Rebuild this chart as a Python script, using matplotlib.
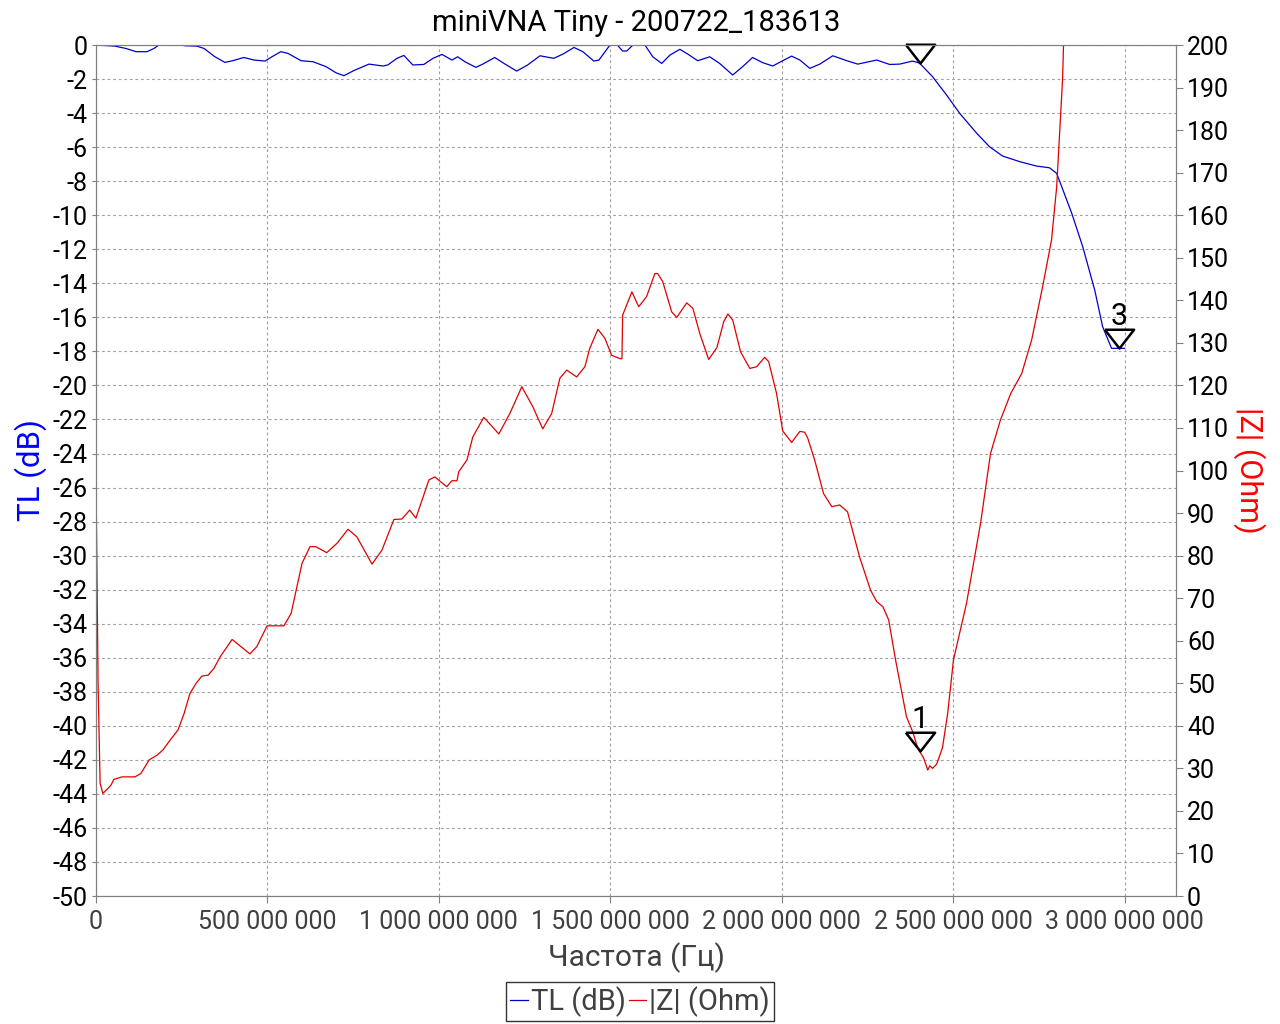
import numpy as np
import matplotlib
matplotlib.use("Agg")
import matplotlib.pyplot as plt
from matplotlib.ticker import FuncFormatter, MultipleLocator

plt.rcParams['font.family'] = ['Roboto', 'DejaVu Sans']

# TL (dB) trace, frequency in MHz
tl_freq_mhz = [0, 55, 87, 117, 149, 169, 187, 222, 259, 294, 315, 347, 376, 399, 431,
               461, 493, 513, 539, 560, 598, 633, 671, 700, 723, 752, 796, 837, 851,
               878, 898, 924, 956, 983, 1009, 1038, 1055, 1076, 1108, 1128, 1163, 1190,
               1227, 1259, 1295, 1335, 1362, 1394, 1420, 1452, 1467, 1499, 1516, 1536,
               1548, 1566, 1586, 1601, 1624, 1650, 1674, 1703, 1726, 1755, 1790, 1819,
               1857, 1886, 1915, 1945, 1974, 2003, 2029, 2053, 2082, 2111, 2149, 2190,
               2222, 2277, 2315, 2344, 2382, 2402, 2440, 2481, 2519, 2569, 2606, 2644,
               2694, 2743, 2781, 2802, 2846, 2878, 2913, 2936, 2962, 3000]
tl_db = [0.0, -0.06, -0.2, -0.39, -0.39, -0.2, 0.05, 0.1, -0.04, -0.06, -0.2, -0.69,
         -1.02, -0.92, -0.73, -0.88, -0.94, -0.69, -0.39, -0.49, -0.92, -0.98, -1.27,
         -1.63, -1.8, -1.5, -1.12, -1.23, -1.17, -0.78, -0.61, -1.17, -1.14, -0.78,
         -0.55, -0.88, -0.69, -0.98, -1.31, -1.12, -0.73, -1.08, -1.53, -1.17, -0.63,
         -0.78, -0.53, -0.14, -0.39, -0.94, -0.88, 0.0, 0.1, -0.35, -0.35, 0.0, 0.1,
         0.0, -0.69, -1.08, -0.59, -0.25, -0.53, -0.92, -0.69, -1.08, -1.76, -1.27,
         -0.73, -1.04, -1.23, -0.92, -0.65, -0.88, -1.37, -1.12, -0.63, -0.92, -1.12,
         -0.88, -1.14, -1.12, -0.94, -1.06, -1.86, -2.94, -4.01, -5.19, -5.97, -6.52,
         -6.85, -7.11, -7.21, -7.54, -9.89, -11.85, -14.4, -16.55, -17.82, -17.82]

# |Z| (Ohm) trace, frequency in MHz
z_freq_mhz = [1, 6, 12, 20, 35, 44, 52, 76, 114, 131, 155, 178, 195, 213, 239, 257, 274,
              292, 309, 327, 344, 362, 397, 423, 449, 469, 499, 548, 569, 601, 624, 641,
              673, 703, 735, 761, 805, 834, 869, 892, 915, 933, 971, 988, 1023, 1038,
              1053, 1058, 1082, 1099, 1131, 1175, 1207, 1242, 1274, 1303, 1329, 1353,
              1373, 1402, 1426, 1440, 1464, 1484, 1504, 1528, 1534, 1536, 1563, 1583,
              1606, 1630, 1638, 1653, 1679, 1694, 1723, 1741, 1761, 1787, 1811, 1831,
              1843, 1857, 1880, 1907, 1927, 1950, 1962, 1985, 2003, 2029, 2038, 2053,
              2067, 2076, 2096, 2122, 2146, 2169, 2192, 2227, 2259, 2277, 2295, 2312,
              2332, 2347, 2364, 2382, 2397, 2414, 2426, 2432, 2440, 2452, 2469, 2484,
              2501, 2539, 2580, 2609, 2638, 2668, 2700, 2729, 2761, 2787, 2802, 2811,
              2819, 2822, 2834, 2860, 3000]
z_ohm = [90.7, 50.0, 26.5, 24.1, 25.3, 26.1, 27.4, 28.0, 28.0, 28.8, 32.0, 33.1, 34.3,
         36.3, 39.0, 42.9, 47.6, 50.0, 51.7, 51.9, 53.5, 56.2, 60.3, 58.6, 56.9, 58.6,
         63.5, 63.5, 66.4, 78.2, 82.1, 82.1, 80.7, 82.9, 86.2, 84.4, 78.0, 81.3, 88.5,
         88.6, 90.7, 88.8, 97.8, 98.5, 96.2, 97.6, 97.6, 99.7, 102.5, 107.9, 112.5,
         108.6, 113.4, 119.7, 115.0, 109.8, 113.4, 121.7, 123.6, 122.0, 124.4, 128.7,
         133.2, 131.1, 127.1, 126.3, 126.3, 136.5, 142.0, 138.5, 140.9, 146.3, 146.3,
         144.4, 137.3, 136.0, 139.4, 138.1, 132.2, 126.1, 128.9, 135.0, 136.8, 135.4,
         127.9, 124.0, 124.4, 126.6, 125.6, 118.1, 109.3, 106.6, 107.6, 109.2, 109.0,
         107.6, 102.5, 94.6, 91.5, 91.9, 90.3, 79.7, 71.9, 69.2, 68.0, 64.9, 55.5,
         49.2, 42.1, 38.6, 34.7, 32.4, 29.6, 30.6, 30.0, 31.0, 34.9, 42.9, 55.5, 68.8,
         87.6, 104.0, 111.9, 118.1, 122.8, 130.7, 143.2, 154.2, 166.7, 180.0, 191.7,
         200.0, 215.0, 260.0, 500.0]

# markers: (label, trace, frequency in MHz)
marker_labels = ['1', '2', '3']
marker_trace = ['z', 'tl', 'tl']
marker_freq_mhz = [2402, 2402, 2983]

title = "miniVNA Tiny - 200722_183613"
blue = '#0000cc'
red = '#e00000'
gray_txt = '#404040'

tl_freq = np.array(tl_freq_mhz) * 1e6
z_freq = np.array(z_freq_mhz) * 1e6

fig = plt.figure(figsize=(12.8, 10.24), dpi=100)
ax = fig.add_axes([0.075, 0.125, 0.84375, 0.831])
ax2 = ax.twinx()

ax.plot(tl_freq, tl_db, color=blue, lw=0.9, label='TL (dB)')
ax2.plot(z_freq, z_ohm, color=red, lw=0.9, label='|Z| (Ohm)')

ax.set_xlim(0, 3.15e9)
ax.set_ylim(-50, 0)
ax2.set_ylim(0, 200)

ax.xaxis.set_major_locator(MultipleLocator(5e8))
ax.yaxis.set_major_locator(MultipleLocator(2))
ax2.yaxis.set_major_locator(MultipleLocator(10))
ax.xaxis.set_major_formatter(FuncFormatter(lambda v, p: f"{int(round(v)):,}".replace(',', ' ')))
ax.yaxis.set_major_formatter(FuncFormatter(lambda v, p: f"{int(v)}"))

ax.grid(True, color='#a0a0a0', linestyle=(0, (2.5, 2.5)), lw=0.8)
ax.tick_params(axis='x', labelsize=18, labelcolor=gray_txt, color='#808080', length=5, pad=5)
ax.tick_params(axis='y', labelsize=18, labelcolor='black', color='#808080', length=3, pad=3)
ax2.tick_params(axis='y', labelsize=18, labelcolor='black', color='#808080', length=5, pad=3)
for a in (ax, ax2):
    for s in a.spines.values():
        s.set_color('#808080')

ax.set_xlabel('Частота (Гц)', fontsize=21.5, color=gray_txt, labelpad=6)
ax.set_ylabel('TL (dB)', fontsize=22.5, color='#0000ff', labelpad=4)
ax2.set_ylabel('|Z| (Ohm)', fontsize=22, color='#ff0000', rotation=270, labelpad=26)
ax.set_title(title, fontsize=21, color='black', pad=10)

# markers: open triangle with apex on the trace
tri = [(-0.78, 1.0), (0.78, 1.0), (0.0, 0.0), (-0.78, 1.0)]
for lab, tr, fm in zip(marker_labels, marker_trace, marker_freq_mhz):
    f = fm * 1e6
    if tr == 'z':
        target, yv = ax2, np.interp(f, z_freq, z_ohm)
    else:
        target, yv = ax, np.interp(f, tl_freq, tl_db)
    target.plot([f], [yv], marker=tri, ms=27, mfc='none', mec='black', mew=1.8,
                linestyle='none', clip_on=False, zorder=5)
    if lab != '2':
        target.annotate(lab, (f, yv), xytext=(0, 12.5), textcoords='offset points',
                        ha='center', va='bottom', fontsize=22, color='black',
                        annotation_clip=False)

h1, l1 = ax.get_legend_handles_labels()
h2, l2 = ax2.get_legend_handles_labels()
leg = fig.legend(h1 + h2, l1 + l2, loc='center', bbox_to_anchor=(0.5, 0.022), ncol=2,
                 fontsize=21, frameon=True, fancybox=False, edgecolor='black',
                 handlelength=0.6, handletextpad=0.1, columnspacing=0.1,
                 borderpad=0.15, borderaxespad=0)
leg.get_frame().set_linewidth(1.0)
for t in leg.get_texts():
    t.set_color(gray_txt)

fig.savefig('out.png', dpi=100)
